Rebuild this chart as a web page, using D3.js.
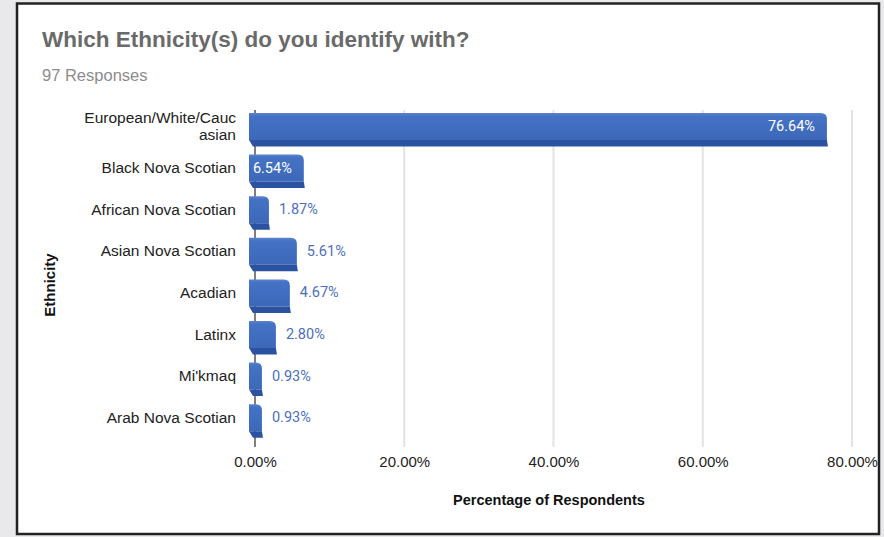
<!DOCTYPE html>
<html>
<head>
<meta charset="utf-8">
<script src="https://cdn.jsdelivr.net/npm/d3@7/dist/d3.min.js"></script>
<style>
  html, body { margin: 0; padding: 0; background: #e9e9eb; }
  svg { display: block; }
</style>
</head>
<body>
<svg id="chart" width="884" height="537"></svg>
<script>
// Survey: ethnicity self-identification (% of respondents)
const categories = [
  "European/White/Caucasian",
  "Black Nova Scotian",
  "African Nova Scotian",
  "Asian Nova Scotian",
  "Acadian",
  "Latinx",
  "Mi'kmaq",
  "Arab Nova Scotian"
];
const categoryLines = [
  ["European/White/Cauc", "asian"],
  ["Black Nova Scotian"],
  ["African Nova Scotian"],
  ["Asian Nova Scotian"],
  ["Acadian"],
  ["Latinx"],
  ["Mi'kmaq"],
  ["Arab Nova Scotian"]
];
const values = [76.64, 6.54, 1.87, 5.61, 4.67, 2.80, 0.93, 0.93];
const xTicks = [0, 20, 40, 60, 80];
const titleText = "Which Ethnicity(s) do you identify with?";
const subtitleText = "97 Responses";
const xTitle = "Percentage of Respondents";
const yTitle = "Ethnicity";

const svg = d3.select("#chart");
const sans = "'Liberation Sans', Arial, Helvetica, sans-serif";

// white card with dark border
svg.append("rect")
  .attr("x", 17).attr("y", 3.5)
  .attr("width", 862).attr("height", 530.5)
  .attr("fill", "#ffffff")
  .attr("stroke", "#222222")
  .attr("stroke-width", 2.5);

svg.append("text")
  .attr("x", 42).attr("y", 47)
  .attr("font-family", sans).attr("font-weight", "bold")
  .attr("font-size", 22.5).attr("fill", "#6a6a6a")
  .text(titleText);

svg.append("text")
  .attr("x", 42).attr("y", 80.5)
  .attr("font-family", sans)
  .attr("font-size", 16.5).attr("fill", "#8c8c8c")
  .text(subtitleText);

const x = d3.scaleLinear().domain([0, 80]).range([255, 852]);
const y = d3.scaleBand().domain(categories).range([105.2, 438]).padding(0);

const plotTop = 110, plotBottom = 447;

// vertical gridlines
svg.append("g")
  .selectAll("line")
  .data(xTicks.filter(t => t > 0))
  .join("line")
  .attr("x1", d => x(d)).attr("x2", d => x(d))
  .attr("y1", plotTop).attr("y2", plotBottom)
  .attr("stroke", "#e3e3e3")
  .attr("stroke-width", 2);

// category axis line
svg.append("line")
  .attr("x1", x(0)).attr("x2", x(0))
  .attr("y1", plotTop).attr("y2", plotBottom)
  .attr("stroke", "#555555")
  .attr("stroke-width", 1.5);

// x tick labels
const xAxis = d3.axisBottom(x).tickValues(xTicks)
  .tickFormat(d => d3.format(".2f")(d) + "%")
  .tickSize(0).tickPadding(0);
const gx = svg.append("g").attr("transform", "translate(0,455)").call(xAxis);
gx.select(".domain").remove();
gx.selectAll("text")
  .attr("font-family", sans).attr("font-size", 15)
  .attr("fill", "#222222").attr("dy", "0.8em");

// bars with a bevelled 3D look
const defs = svg.append("defs");
const grad = defs.append("linearGradient").attr("id", "barFace")
  .attr("x1", 0).attr("y1", 0).attr("x2", 0).attr("y2", 1);
grad.append("stop").attr("offset", "0%").attr("stop-color", "#5b84d0");
grad.append("stop").attr("offset", "12%").attr("stop-color", "#4472c4");
grad.append("stop").attr("offset", "100%").attr("stop-color", "#3d68ba");

const depthX = 6, faceUp = 13, faceDown = 14, bevel = 6.5, r = 6;
const bars = svg.append("g").selectAll("g")
  .data(categories.map((c, i) => ({ c, v: values[i] })))
  .join("g");

bars.append("path")
  .attr("fill", "url(#barFace)")
  .attr("d", d => {
    const cy = y(d.c) + y.bandwidth() / 2;
    const x0 = x(0) - depthX, x1 = x(d.v);
    const t = cy - faceUp, b = cy + faceDown;
    const rr = Math.min(r, (x1 - x0) / 2);
    return `M${x0},${t} L${x1 - rr},${t} Q${x1},${t} ${x1},${t + rr} L${x1},${b} L${x0},${b} Z`;
  });

bars.append("path")
  .attr("fill", "#2a52a0")
  .attr("d", d => {
    const cy = y(d.c) + y.bandwidth() / 2;
    const x0 = x(0) - depthX, x1 = x(d.v);
    const b = cy + faceDown;
    return `M${x0},${b} L${x1},${b} L${x1 + 1},${b + bevel} L${x0 + 4},${b + bevel} Z`;
  });

// value labels
bars.append("text")
  .attr("font-family", "Roboto, 'Liberation Sans', sans-serif")
  .attr("font-size", 14.5)
  .attr("y", d => y(d.c) + y.bandwidth() / 2 + 5)
  .attr("x", d => d.v > 6 ? x(d.v) - 12 : x(d.v) + 10)
  .attr("text-anchor", d => d.v > 6 ? "end" : "start")
  .attr("fill", d => d.v > 6 ? "#ffffff" : "#4d6fc0")
  .text(d => d3.format(".2f")(d.v) + "%");

// category labels (long names wrap onto a second line)
const lineGap = 16.5;
const cl = svg.append("g").selectAll("text")
  .data(categories.map((c, i) => ({ c, lines: categoryLines[i] })))
  .join("text")
  .attr("font-family", sans).attr("font-size", 15.5)
  .attr("fill", "#222222")
  .attr("text-anchor", "end")
  .attr("y", d => y(d.c) + y.bandwidth() / 2 + 5.5 - (d.lines.length - 1) * lineGap / 2);
cl.selectAll("tspan")
  .data(d => d.lines)
  .join("tspan")
  .attr("x", 236)
  .attr("dy", (d, i) => i === 0 ? 0 : lineGap)
  .text(d => d);

// axis titles
svg.append("text")
  .attr("x", 549).attr("y", 505)
  .attr("text-anchor", "middle")
  .attr("font-family", sans).attr("font-weight", "bold")
  .attr("font-size", 14.5).attr("fill", "#111111")
  .text(xTitle);

svg.append("text")
  .attr("transform", "translate(55,285) rotate(-90)")
  .attr("text-anchor", "middle")
  .attr("font-family", sans).attr("font-weight", "bold")
  .attr("font-size", 15).attr("fill", "#111111")
  .text(yTitle);
</script>
</body>
</html>
